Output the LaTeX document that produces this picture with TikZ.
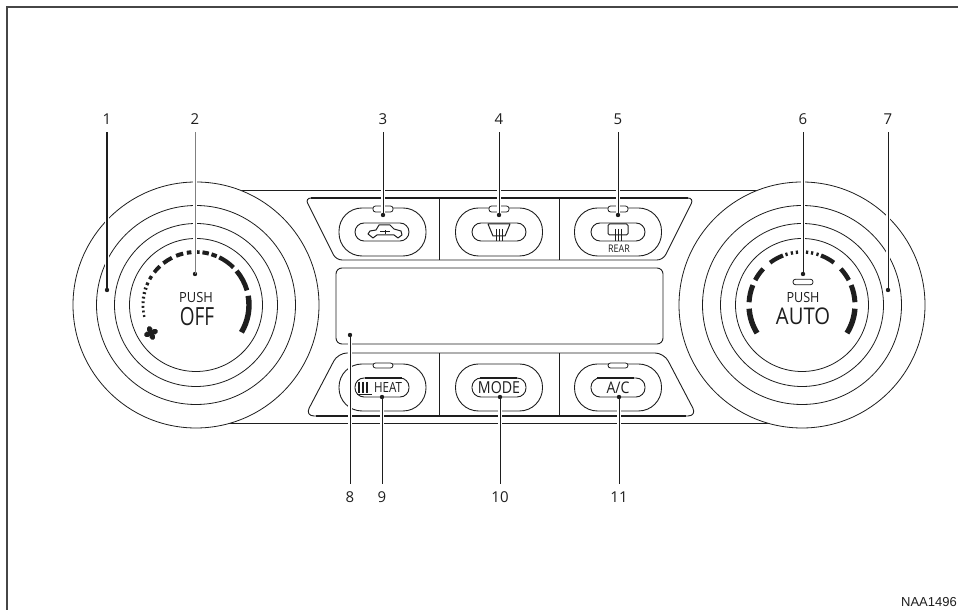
\documentclass[tikz,border=0pt]{standalone}
\usepackage{fontspec}
\setmainfont{Open Sans}
\newfontfamily\codefont{Liberation Sans}
\usetikzlibrary{positioning}
\definecolor{panelInk}{RGB}{30,30,30}
\definecolor{frameInk}{RGB}{70,70,70}
\newcommand{\squeezed}[2]{\scalebox{#1}[1]{#2}}
\tikzset{
  ring/.style={panelInk, line width=0.8pt, fill=white},
  panelline/.style={panelInk, line width=0.9pt},
  stadium/.style={draw=panelInk, line width=0.9pt, inner sep=0pt, rounded corners=23pt, minimum width=87pt, minimum height=48pt},
  keycap/.style={draw=panelInk, line width=0.9pt, inner sep=0pt, rounded corners=9pt, minimum width=54pt, minimum height=18pt, text=panelInk},
  lamp/.style={draw=panelInk, line width=0.8pt, fill=white, inner sep=0pt, rounded corners=2.5pt, minimum width=20pt, minimum height=6pt},
  numlabel/.style={inner sep=0pt, minimum height=26pt, text=panelInk, font=\fontsize{15}{15}\selectfont},
  leader/.style={panelInk, line width=1pt, preaction={draw=white, line width=3.5pt}},
  leaderdot/.style={panelInk, fill=panelInk},
  icon/.style={panelInk, line width=1pt, line join=round}
}
\begin{document}
\begin{tikzpicture}[x=1pt,y=1pt]
\useasboundingbox (0,0) rectangle (958,610);
\draw[frameInk, line width=1.6pt] (7,0)--(7,603)--(958,603);

\draw[panelline] (235,420)--(765,420);
\draw[panelline] (225,187)--(775,187);

\coordinate (knobFan) at (196,305);
\coordinate (knobTemp) at (802,305);
\foreach \r in {123,99.5,81.5,66.5} {
  \draw[ring] (knobFan) circle[radius=\r];
  \draw[ring] (knobTemp) circle[radius=\r];
}

\foreach \a in {193,188,183,178,173,168,163} {
  \draw[panelInk, line width=2.4pt+(193-\a)*0.04pt] (knobFan) ++(\a:53) arc[start angle=\a,end angle=\a-2,radius=53];
}
\foreach \a/\b/\w in {158/155/3.2,151/147/3.4,142/133/3.8,128/117/4,112/104/4,100/95/4,90/86/3.6,83/76/4,73/67/4,64/45/4.2,40/16/4.8,10/-31/5.4} {
  \draw[panelInk, line width=\w pt] (knobFan) ++(\a:53) arc[start angle=\a,end angle=\b,radius=53];
}
\foreach \a/\b/\w in {212/184/5.4,177/158/5,152/137/4.6,127/111/4.2} {
  \draw[panelInk, line width=\w pt] (knobTemp) ++(\a:53) arc[start angle=\a,end angle=\b,radius=53];
  \draw[panelInk, line width=\w pt] (knobTemp) ++({180-\a}:53) arc[start angle={180-\a},end angle={180-\b},radius=53];
}
\foreach \a in {107,101,95.5,90,84.5,79,73} {
  \draw[panelInk, line width=3.4pt] (knobTemp) ++(\a+1.2:53) arc[start angle=\a+1.2,end angle=\a-1.2,radius=53];
}

\coordinate (fanIcon) at (151,277);
\foreach \t in {20,110,200,290} {
  \fill[panelInk, rotate around={\t:(fanIcon)}] (fanIcon) ++(3.6,0) ellipse[x radius=3.6,y radius=2.8];
}

\node[text=panelInk, font=\fontsize{14}{14}\selectfont] (pushOff) at (196,312) {\squeezed{0.92}{PUSH}};
\node[text=panelInk, font=\fontsize{25}{25}\selectfont] (offText) at (197,293) {\squeezed{0.76}{OFF}};
\node[lamp, minimum height=5.5pt] (lampAuto) at (803,328) {};
\node[text=panelInk, font=\fontsize{14}{14}\selectfont] (pushAuto) at (803,312) {\squeezed{0.9}{PUSH}};
\node[text=panelInk, font=\fontsize{23}{23}\selectfont] (autoText) at (803,294) {\squeezed{0.88}{AUTO}};

\draw[panelline, rounded corners=6pt] (305,412)--(694,412)--(663,350)--(336,350)--cycle;
\draw[panelInk, line width=1.8pt] (311,412)--(688,412);
\draw[panelline] (439,412)--(439,350);
\draw[panelline] (559,412)--(559,350);

\draw[panelline, rounded corners=6pt] (336,342) rectangle (663,266);

\draw[panelline, rounded corners=9pt] (338,257)--(664,257)--(697,194)--(305,194)--cycle;
\draw[panelInk, line width=1.3pt] (316,194)--(686,194);
\draw[panelline] (439,257)--(439,194);
\draw[panelline] (559,257)--(559,194);

\node[stadium] (btnRecirc) at (382.5,378) {};
\node[stadium] (btnFront) at (499,378) {};
\node[stadium] (btnRear) at (618,378) {};
\node[keycap] (capRecirc) at (382,378) {};
\node[keycap] (capFront) at (499,378) {};
\node[keycap] (capRear) at (618,378) {};
\node[lamp] (lampRecirc) at (383,401) {};
\node[lamp] (lampFront) at (499,401) {};
\node[lamp] (lampRear) at (618,401) {};
\node[text=panelInk, inner sep=0pt, font=\fontsize{10.5}{10.5}\selectfont] (rearText) at (619,361) {\squeezed{0.85}{REAR}};

\node[stadium, minimum height=47pt] (btnHeat) at (382.5,222.5) {};
\node[stadium, minimum height=47pt] (btnMode) at (499,222.5) {};
\node[stadium, minimum height=47pt] (btnAc) at (618,222.5) {};
\node[keycap, minimum height=19pt, font=\fontsize{14}{14}\selectfont] (capHeat) at (382,222.5) {\hspace{12pt}\squeezed{0.83}{HEAT}};
\node[keycap, minimum height=19pt, font=\fontsize{16.5}{16.5}\selectfont] (capMode) at (499,222.5) {\squeezed{0.86}{MODE}};
\node[keycap, minimum height=19pt, font=\fontsize{16}{16}\selectfont] (capAc) at (618,222.5) {\squeezed{0.88}{A/C}};
\node[lamp, minimum height=5pt] (lampHeat) at (383,244.5) {};
\node[lamp, minimum height=5pt] (lampAc) at (618,244.5) {};
\draw[panelInk, line width=1.8pt] (365,232)--(402,232);
\draw[panelInk, line width=1.8pt] (480,232)--(517,232);
\draw[panelInk, line width=1.8pt] (597,232)--(634,232);

\draw[icon] (368,376)--(370,379)--(376,380)--(379,385)--(390,385)--(394,381)--(401,379)--(402,375)--(398,372)--(394,375)--(377,375)--(373,372)--cycle;
\draw[icon] (380,378)--(390,378) (385,376)--(385,380);
\draw[icon] (488,386)--(510,386)--(505,374)--(493,374)--cycle;
\draw[icon, line width=0.7pt] (496,381)--(496,369) (499,381)--(499,369) (502,381)--(502,369);
\draw[icon, rounded corners=1.5pt] (608,386) rectangle (628,375);
\draw[icon, line width=0.7pt] (615,381)--(615,369) (618,381)--(618,369) (621,381)--(621,369);
\draw[panelInk, line width=1.2pt] (359,228)--(359,217) (363,228)--(363,217) (367,228)--(367,217);
\draw[panelInk, line width=1.5pt] (357,215.5)--(372,215.5);

\node[numlabel] (lab1) at (107,491) {1};
\node[numlabel] (lab2) at (195,491) {2};
\node[numlabel] (lab3) at (383,491) {3};
\node[numlabel] (lab4) at (499,491) {4};
\node[numlabel] (lab5) at (618,491) {5};
\node[numlabel] (lab6) at (803,491) {6};
\node[numlabel] (lab7) at (888,491) {7};
\node[numlabel] (lab8) at (350,113) {8};
\node[numlabel] (lab9) at (382,113) {9};
\node[numlabel] (lab10) at (500,113) {10};
\node[numlabel] (lab11) at (619,113) {11};

\foreach \n/\x/\y in {1/107/320,2/195/336,3/383/395,4/499/395,5/618/395,6/803/336,7/888/320,8/350/275,9/382/213,10/500/213,11/619/213} {
  \coordinate (dot\n) at (\x,\y);
  \draw[leader] (lab\n) -- (dot\n);
  \fill[leaderdot] (dot\n) circle[radius=2.2];
}
\draw[panelInk, line width=1.7pt] (lab1) -- (dot1);
\draw[gray, line width=1pt] (lab2) -- (dot2);

\node[anchor=east, inner sep=0pt, text=panelInk, font=\codefont\fontsize{13}{13}\selectfont] (refCode) at (957,8) {NAA1496};
\end{tikzpicture}
\end{document}
